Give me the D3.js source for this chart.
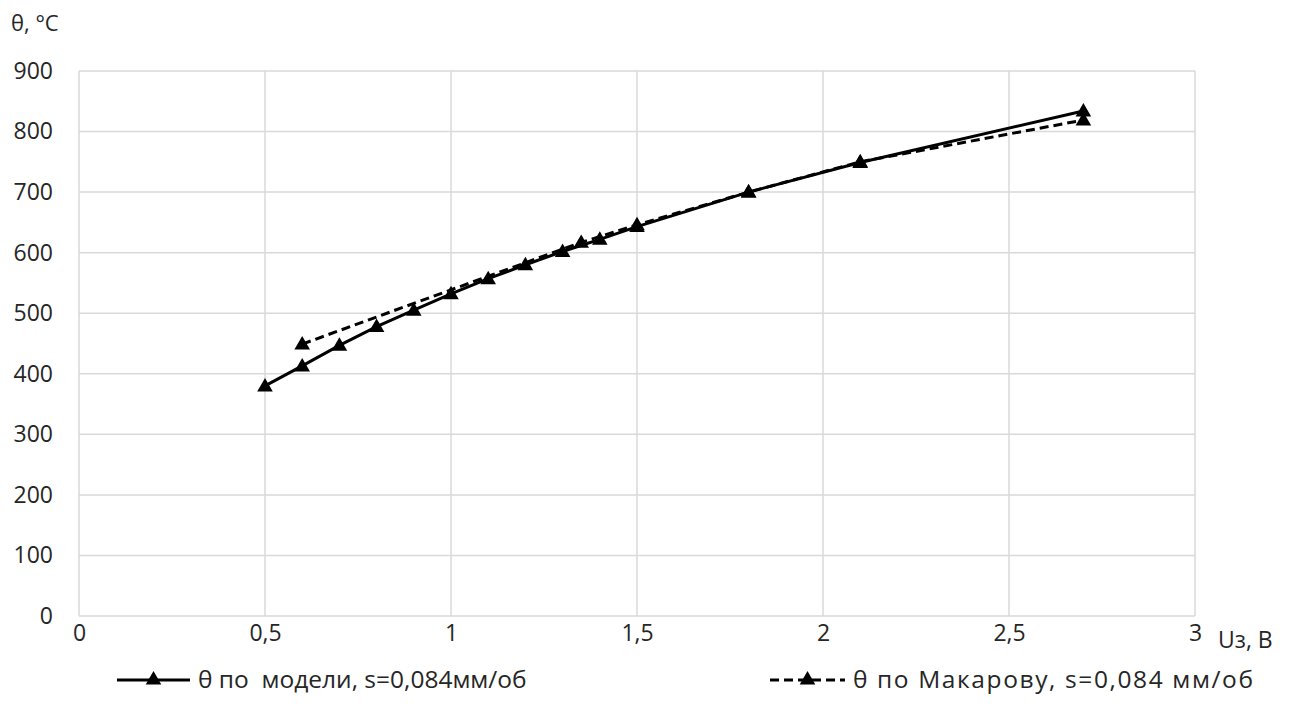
<!DOCTYPE html>
<html>
<head>
<meta charset="utf-8">
<script src="https://cdn.jsdelivr.net/npm/d3@7"></script>
<style>
  html, body { margin: 0; padding: 0; background: #fff; }
  svg text { font-family: "Open Sans", "Liberation Sans", sans-serif; fill: #262626; white-space: pre; }
</style>
</head>
<body>
<svg id="chart" width="1310" height="722"></svg>
<script>
// Cutting temperature vs. voltage Uз
const modelU    = [0.5, 0.6, 0.7, 0.8, 0.9, 1.0, 1.1, 1.2, 1.3, 1.4, 1.5, 1.8, 2.1, 2.7];
const modelT    = [380, 413, 447, 478, 505, 532, 557, 580, 602, 622, 643, 700, 749, 834];
const makarovU  = [0.6, 1.35, 1.5, 1.8, 2.1, 2.7];
const makarovT  = [449, 617, 646, 700, 750, 819];

const xTicks = [0, 0.5, 1, 1.5, 2, 2.5, 3];
const yTicks = [0, 100, 200, 300, 400, 500, 600, 700, 800, 900];
const seriesNames = ["θ по  модели, s=0,084мм/об", "θ по Макарову, s=0,084 мм/об"];
const yTitle = "θ, °C";
const xTitle = "Uз, B";

const svg = d3.select("#chart");
const plot = { left: 79, right: 1195, top: 71, bottom: 616 };

const x = d3.scaleLinear().domain([0, 3]).range([plot.left, plot.right]);
const y = d3.scaleLinear().domain([0, 900]).range([plot.bottom, plot.top]);
const fmt = d => String(d).replace(".", ",");

// grid
const grid = svg.append("g");
grid.selectAll(".vg").data(xTicks).join("line")
  .attr("x1", d => x(d)).attr("x2", d => x(d))
  .attr("y1", plot.top).attr("y2", plot.bottom)
  .attr("stroke", "#d9d9d9").attr("stroke-width", 1.5);
grid.selectAll(".hg").data(yTicks).join("line")
  .attr("x1", plot.left).attr("x2", plot.right)
  .attr("y1", d => y(d)).attr("y2", d => y(d))
  .attr("stroke", "#d9d9d9").attr("stroke-width", 1.5);

// axes (labels only)
const xAxis = svg.append("g").attr("transform", `translate(0,${plot.bottom})`)
  .call(d3.axisBottom(x).tickValues(xTicks).tickFormat(fmt).tickSize(0).tickPadding(9));
xAxis.select(".domain").remove();
xAxis.selectAll("text").style("font-size", "23px").attr("fill", "#262626");

const yAxis = svg.append("g").attr("transform", `translate(${plot.left},0)`)
  .call(d3.axisLeft(y).tickValues(yTicks).tickFormat(fmt).tickSize(0).tickPadding(26));
yAxis.select(".domain").remove();
yAxis.selectAll("text").style("font-size", "23px").attr("fill", "#262626");

svg.append("text").attr("x", 11).attr("y", 31).style("font-size", "22px").text(yTitle);
svg.append("text").attr("x", 1218).attr("y", 648).style("font-size", "23px").text(xTitle);

const tri = d3.symbol().type(d3.symbolTriangle).size(105);
const line = d3.line().x(d => x(d[0])).y(d => y(d[1]));

const series = [
  { pts: d3.zip(modelU, modelT), dash: null },
  { pts: d3.zip(makarovU, makarovT), dash: "9,5" }
];

// Makarov underneath, model on top
[series[1], series[0]].forEach(s => {
  svg.append("path").datum(s.pts).attr("d", line)
    .attr("fill", "none").attr("stroke", "#000").attr("stroke-width", 3)
    .attr("stroke-dasharray", s.dash);
  svg.append("g").selectAll("path").data(s.pts).join("path")
    .attr("d", tri)
    .attr("transform", d => `translate(${x(d[0])},${y(d[1]) + 1})`)
    .attr("fill", "#000");
});

// legend
const legend = [
  { x0: 117, x1: 190, tx: 198, w: null, dash: null, name: seriesNames[0] },
  { x0: 770, x1: 845, tx: 853, w: 400, dash: "9,5", name: seriesNames[1] }
];
const ly = 680;
legend.forEach(l => {
  svg.append("line").attr("x1", l.x0).attr("x2", l.x1).attr("y1", ly).attr("y2", ly)
    .attr("stroke", "#000").attr("stroke-width", 3).attr("stroke-dasharray", l.dash);
  svg.append("path").attr("d", tri).attr("transform", `translate(${(l.x0 + l.x1) / 2},${ly})`).attr("fill", "#000");
  const t = svg.append("text").attr("x", l.tx).attr("y", ly + 8).style("font-size", "24.5px").text(l.name);
  if (l.w) t.attr("textLength", l.w).attr("lengthAdjust", "spacing");
});
</script>
</body>
</html>
